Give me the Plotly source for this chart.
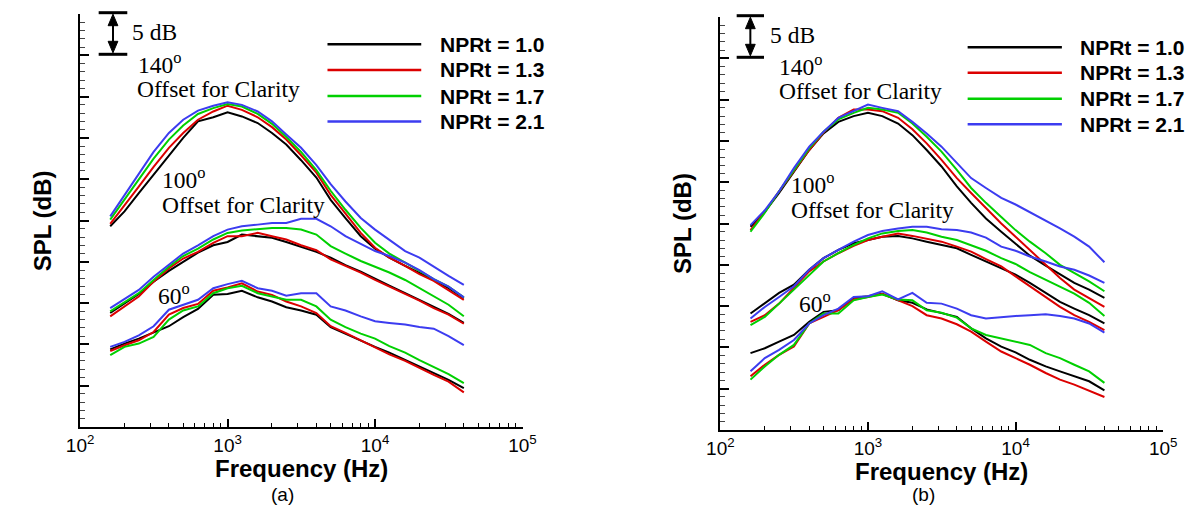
import plotly.graph_objects as go

W, H = 1196, 508

# 1/3-octave band centre frequencies (Hz)
freq = [160, 200, 250, 315, 400, 500, 630, 800, 1000, 1250, 1600, 2000, 2500,
        3150, 4000, 5000, 6300, 8000, 10000, 12500, 16000, 20000, 25000, 31500, 40000]

series_names = ["NPRt = 1.0", "NPRt = 1.3", "NPRt = 1.7", "NPRt = 2.1"]
series_colors = ["#000000", "#dc0000", "#00d000", "#3c3cf0"]

# ---- panel (a): SPL (dB, relative, offset for clarity) ----
a140_npr10 = [24.3, 26.1, 28.3, 30.5, 32.9, 35.0, 37.0, 37.5, 38.1, 37.6, 36.8, 35.6, 34.2, 32.3, 30.2, 27.5, 25.3, 23.1, 21.6, 20.5, 19.5, 18.7, 17.8, 16.8, 15.6]
a140_npr13 = [24.6, 26.8, 29.1, 31.5, 33.8, 35.6, 37.2, 38.2, 38.9, 38.4, 37.5, 36.3, 34.8, 32.9, 30.8, 28.1, 25.8, 23.5, 21.7, 20.5, 19.5, 18.5, 17.7, 16.6, 15.4]
a140_npr17 = [25.1, 27.5, 29.9, 32.5, 34.8, 36.5, 37.9, 38.6, 39.1, 38.8, 37.9, 36.7, 35.1, 33.3, 31.1, 28.6, 26.3, 24.1, 22.3, 21.0, 19.9, 18.9, 17.9, 17.0, 15.7]
a140_npr21 = [25.5, 28.1, 30.7, 33.3, 35.6, 37.2, 38.3, 38.9, 39.3, 39.0, 38.2, 37.0, 35.4, 33.8, 31.7, 29.4, 27.3, 25.3, 23.9, 22.7, 21.3, 20.5, 19.4, 18.3, 17.2]

a100_npr10 = [13.8, 14.9, 16.1, 17.6, 18.9, 20.0, 21.1, 22.0, 22.4, 23.3, 23.1, 22.9, 22.4, 21.8, 21.2, 20.5, 19.6, 18.8, 17.9, 17.1, 16.2, 15.4, 14.5, 13.7, 12.6]
a100_npr13 = [13.4, 14.6, 15.8, 17.6, 19.2, 20.4, 21.2, 22.3, 23.1, 23.1, 23.5, 23.1, 22.7, 22.0, 21.4, 20.3, 19.5, 18.7, 17.8, 17.0, 16.1, 15.3, 14.4, 13.6, 12.5]
a100_npr17 = [14.0, 15.1, 16.2, 17.8, 19.4, 20.7, 21.6, 22.7, 23.5, 23.8, 24.0, 24.1, 24.1, 23.9, 23.3, 21.9, 21.0, 20.1, 19.4, 18.7, 17.8, 16.8, 15.9, 14.8, 13.4]
a100_npr21 = [14.4, 15.5, 16.6, 18.2, 19.7, 21.0, 22.0, 23.1, 23.9, 24.3, 24.5, 24.7, 24.7, 25.2, 25.2, 24.3, 23.1, 22.2, 21.3, 20.7, 19.9, 19.0, 17.9, 17.0, 15.7]

a60_npr10 = [9.4, 10.1, 10.7, 11.4, 12.2, 13.3, 14.3, 16.0, 16.1, 16.5, 15.7, 15.2, 14.5, 14.1, 13.6, 12.1, 11.3, 10.4, 9.7, 9.0, 8.1, 7.3, 6.5, 5.7, 4.7]
a60_npr13 = [9.2, 9.9, 10.5, 11.5, 13.6, 14.4, 14.9, 16.5, 16.9, 17.4, 16.4, 16.0, 15.2, 14.6, 13.8, 12.2, 11.4, 10.5, 9.7, 8.8, 8.0, 7.1, 6.3, 5.5, 4.2]
a60_npr17 = [8.7, 9.7, 10.1, 10.9, 13.0, 14.1, 14.6, 16.2, 16.8, 17.1, 16.2, 15.8, 15.4, 15.4, 14.6, 13.0, 12.1, 11.3, 10.7, 9.8, 9.0, 8.1, 7.3, 6.4, 5.3]
a60_npr21 = [9.7, 10.3, 11.1, 12.2, 14.2, 14.8, 15.4, 16.8, 17.3, 17.7, 16.8, 16.5, 15.9, 16.2, 16.2, 14.6, 14.1, 13.4, 12.8, 12.6, 12.4, 12.1, 11.9, 11.0, 9.9]

# ---- panel (b) ----
b140_npr10 = [24.6, 26.4, 28.7, 31.3, 33.9, 35.9, 37.3, 38.0, 38.4, 38.0, 37.1, 35.7, 33.9, 31.9, 29.5, 27.5, 25.6, 24.0, 22.5, 21.1, 19.9, 18.8, 17.8, 17.0, 16.0]
b140_npr13 = [24.2, 26.4, 28.9, 31.3, 33.9, 36.0, 37.8, 38.8, 38.8, 38.6, 37.8, 36.4, 34.7, 32.7, 30.5, 28.7, 26.9, 25.0, 23.4, 21.8, 20.0, 18.4, 17.0, 16.0, 14.9]
b140_npr17 = [24.0, 26.3, 28.9, 31.5, 34.1, 36.1, 37.6, 38.4, 39.0, 38.8, 38.4, 37.1, 35.5, 33.7, 31.5, 29.3, 27.5, 25.8, 24.2, 22.8, 21.4, 20.0, 19.0, 18.0, 16.8]
b140_npr21 = [24.8, 26.6, 28.9, 31.7, 34.3, 36.1, 37.8, 38.6, 39.4, 39.0, 38.6, 37.3, 35.9, 34.3, 32.3, 30.5, 29.3, 28.1, 27.3, 26.4, 25.4, 24.4, 23.4, 22.2, 20.3]

b100_npr10 = [14.1, 15.3, 16.6, 17.6, 19.4, 20.8, 21.8, 22.6, 23.0, 23.4, 23.5, 23.2, 22.8, 22.4, 22.0, 21.2, 20.4, 19.6, 18.8, 17.8, 16.6, 15.5, 14.7, 13.9, 12.9]
b100_npr13 = [13.1, 13.9, 15.3, 17.2, 19.2, 20.4, 21.4, 22.3, 23.0, 23.4, 23.8, 23.5, 23.2, 22.8, 22.2, 21.6, 20.7, 19.8, 18.6, 17.4, 16.0, 14.9, 13.9, 13.1, 12.1]
b100_npr17 = [12.7, 13.7, 15.3, 17.0, 18.8, 20.4, 21.4, 22.4, 23.2, 23.8, 24.1, 24.2, 23.9, 23.4, 23.0, 22.4, 21.7, 20.8, 20.1, 19.1, 18.2, 17.4, 16.5, 15.4, 13.8]
b100_npr21 = [13.5, 14.9, 16.1, 17.4, 19.4, 20.8, 21.8, 22.8, 23.6, 24.1, 24.4, 24.6, 24.6, 24.3, 24.2, 23.9, 23.3, 22.2, 21.7, 21.0, 20.4, 19.8, 19.4, 18.7, 17.8]

b60_npr10 = [9.3, 9.9, 10.7, 11.5, 13.1, 14.3, 14.5, 16.0, 16.2, 16.5, 15.7, 15.4, 14.6, 14.2, 13.7, 12.3, 11.1, 10.1, 9.4, 8.5, 7.7, 7.1, 6.5, 5.9, 4.8]
b60_npr13 = [6.5, 7.9, 9.1, 10.1, 12.9, 13.7, 14.5, 15.8, 16.1, 16.5, 15.7, 15.0, 13.9, 13.5, 12.8, 11.9, 10.7, 9.5, 8.7, 7.9, 6.9, 6.1, 5.5, 4.8, 4.0]
b60_npr17 = [6.1, 7.7, 9.1, 10.3, 12.9, 14.1, 14.1, 15.7, 16.1, 16.4, 15.8, 15.7, 14.5, 14.2, 13.6, 12.3, 11.5, 11.1, 10.7, 10.3, 9.3, 8.7, 7.9, 7.1, 5.7]
b60_npr21 = [7.1, 8.7, 9.7, 10.9, 12.9, 13.9, 14.7, 16.1, 16.2, 16.8, 15.8, 16.6, 15.4, 15.3, 14.7, 13.9, 13.5, 13.7, 13.8, 13.9, 14.0, 13.8, 13.5, 12.9, 11.8]

x_tick_vals = [100, 1000, 10000, 100000]
x_tick_text = ["10<sup>2</sup>", "10<sup>3</sup>", "10<sup>4</sup>", "10<sup>5</sup>"]
y_major_vals = [0, 5, 10, 15, 20, 25, 30, 35, 40, 45, 50]

panels = {
    "a": [[a140_npr10, a140_npr13, a140_npr17, a140_npr21],
          [a100_npr10, a100_npr13, a100_npr17, a100_npr21],
          [a60_npr10, a60_npr13, a60_npr17, a60_npr21]],
    "b": [[b140_npr10, b140_npr13, b140_npr17, b140_npr21],
          [b100_npr10, b100_npr13, b100_npr17, b100_npr21],
          [b60_npr10, b60_npr13, b60_npr17, b60_npr21]],
}

SANS = "Liberation Sans, Arial, sans-serif"
SERIF = "Liberation Serif, Times New Roman, serif"


def px(x):
    return x / W


def py(y):
    return 1 - y / H


fig = go.Figure()
for key, xa, ya in [("a", "x", "y"), ("b", "x2", "y2")]:
    for group in panels[key]:
        for vals, name, col in zip(group, series_names, series_colors):
            fig.add_trace(go.Scatter(x=freq, y=vals, mode="lines", name=name,
                                     line=dict(color=col, width=2),
                                     xaxis=xa, yaxis=ya, showlegend=False,
                                     hoverinfo="skip"))

minor_x = [m * 10 ** e for e in (2, 3, 4) for m in range(2, 10)]

xcommon = dict(type="log", range=[2, 5], showline=True, linecolor="black", linewidth=2,
               ticks="inside", ticklen=8, tickwidth=2, tickcolor="black",
               tickmode="array", tickvals=x_tick_vals, ticktext=x_tick_text,
               tickfont=dict(family=SANS, size=19, color="black"),
               showgrid=False, zeroline=False, mirror=False,
               minor=dict(tickmode="array", tickvals=minor_x, ticks="inside", ticklen=4,
                          tickwidth=1, tickcolor="black", showgrid=False))
ycommon = dict(range=[0, 50], showline=True, linecolor="black", linewidth=2,
               ticks="inside", ticklen=9, tickwidth=2, tickcolor="black",
               tickmode="array", tickvals=y_major_vals, showticklabels=False,
               showgrid=False, zeroline=False, mirror=False,
               minor=dict(dtick=1, ticks="inside", ticklen=5, tickwidth=1,
                          tickcolor="#444444", showgrid=False))

fig.update_layout(
    width=W, height=H, paper_bgcolor="white", plot_bgcolor="white",
    margin=dict(l=0, r=0, t=0, b=0), showlegend=False,
    xaxis=dict(domain=[px(67.7), px(520.7)], anchor="y", **xcommon),
    yaxis=dict(domain=[py(427), py(14)], anchor="x", **ycommon),
    xaxis2=dict(domain=[px(723.3), px(1176.7)], anchor="y2", **xcommon),
    yaxis2=dict(domain=[py(430), py(17)], anchor="x2", **ycommon),
)

annotations = []
shapes = []


def text(x, y, s, size, family, bold=False, xanchor="left", angle=0):
    if bold:
        s = "<b>" + s + "</b>"
    annotations.append(dict(x=px(x), y=py(y), xref="paper", yref="paper", text=s,
                            showarrow=False, xanchor=xanchor, yanchor="middle",
                            textangle=angle,
                            font=dict(family=family, size=size, color="black")))


def pline(x0, y0, x1, y1, color="black", width=2):
    shapes.append(dict(type="line", xref="paper", yref="paper",
                       x0=px(x0), y0=py(y0), x1=px(x1), y1=py(y1),
                       line=dict(color=color, width=width)))


def tri(pts):
    path = "M " + " L ".join(f"{px(a)},{py(b)}" for a, b in pts) + " Z"
    shapes.append(dict(type="path", xref="paper", yref="paper", path=path,
                       fillcolor="black", line=dict(color="black", width=1)))


def scale_bar(x0, x1, ytop, ybot):
    xc = (x0 + x1) / 2
    pline(x0, ytop, x1, ytop, width=3)
    pline(x0, ybot, x1, ybot, width=3)
    pline(xc, ytop + 10, xc, ybot - 10, width=2)
    tri([(xc, ytop + 1.5), (xc - 5, ytop + 13), (xc + 5, ytop + 13)])
    tri([(xc, ybot - 1.5), (xc - 5, ybot - 13), (xc + 5, ybot - 13)])


SERIF_SIZE = 23.5

# panel a decorations
scale_bar(86.7, 116, 12.7, 54.3)
text(119, 32, "5 dB", SERIF_SIZE, SERIF)
text(125, 63, "140<sup>o</sup>", SERIF_SIZE, SERIF)
text(124, 89, "Offset for Clarity", SERIF_SIZE, SERIF)
text(150, 178, "100<sup>o</sup>", SERIF_SIZE, SERIF)
text(150, 205, "Offset for Clarity", SERIF_SIZE, SERIF)
text(145, 294, "60<sup>o</sup>", SERIF_SIZE, SERIF)

# panel b decorations
scale_bar(740, 768, 15.7, 57.3)
text(772, 35, "5 dB", SERIF_SIZE, SERIF)
text(781, 65, "140<sup>o</sup>", SERIF_SIZE, SERIF)
text(781, 91, "Offset for Clarity", SERIF_SIZE, SERIF)
text(794, 183, "100<sup>o</sup>", SERIF_SIZE, SERIF)
text(794, 210, "Offset for Clarity", SERIF_SIZE, SERIF)
text(802, 302, "60<sup>o</sup>", SERIF_SIZE, SERIF)

# manual legends
for (lx0, lx1, tx, ys) in [(321, 417, 434, [44.3, 70, 96, 121.5]),
                           (976.5, 1073, 1090, [47.3, 72.7, 98.7, 124.3])]:
    for yy, name, col in zip(ys, series_names, series_colors):
        pline(lx0, yy, lx1, yy, color=col, width=2.5)
        text(tx, yy, name, 21, SANS, bold=True)

# axis titles and panel labels
text(29, 221, "SPL (dB)", 24, SANS, bold=True, xanchor="center", angle=-90)
text(684, 223, "SPL (dB)", 24, SANS, bold=True, xanchor="center", angle=-90)
text(294, 468, "Frequency (Hz)", 24, SANS, bold=True, xanchor="center")
text(950, 471, "Frequency (Hz)", 24, SANS, bold=True, xanchor="center")
text(275, 494, "(a)", 19, SANS, xanchor="center")
text(931, 494, "(b)", 19, SANS, xanchor="center")

fig.update_layout(annotations=annotations, shapes=shapes)
fig.write_html("out.html", config={"displayModeBar": False},
               post_script="document.body.style.margin='0';document.body.style.overflow='hidden';")
